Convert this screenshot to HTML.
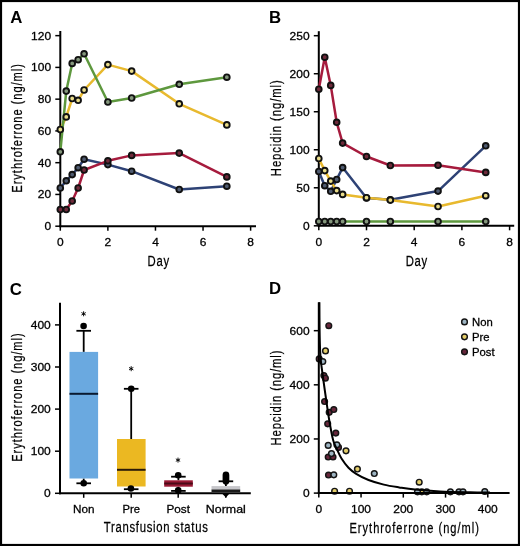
<!DOCTYPE html>
<html><head><meta charset="utf-8"><style>
html,body{margin:0;padding:0;background:#fff;}
svg{display:block;will-change:transform;}
</style></head><body>
<svg width="520" height="546" viewBox="0 0 520 546" font-family='"Liberation Sans", sans-serif' fill="#000">
<rect x="0" y="0" width="520" height="546" fill="#fff"/>
<text x="10.2" y="22.9" font-size="16.8" text-anchor="start" font-weight="bold" >A</text>
<line x1="60.3" y1="31" x2="60.3" y2="227.2" stroke="#000" stroke-width="2.0"/>
<line x1="59.3" y1="226.2" x2="256" y2="226.2" stroke="#000" stroke-width="2.0"/>
<line x1="55.3" y1="226.2" x2="60.3" y2="226.2" stroke="#000" stroke-width="1.5"/>
<text x="51.099999999999994" y="230.2" font-size="11.5" text-anchor="end" font-weight="normal" textLength="6.67" lengthAdjust="spacingAndGlyphs" stroke="#000" stroke-width="0.28" >0</text>
<line x1="55.3" y1="194.44" x2="60.3" y2="194.44" stroke="#000" stroke-width="1.5"/>
<text x="51.099999999999994" y="198.44" font-size="11.5" text-anchor="end" font-weight="normal" textLength="13.34" lengthAdjust="spacingAndGlyphs" stroke="#000" stroke-width="0.28" >20</text>
<line x1="55.3" y1="162.67999999999998" x2="60.3" y2="162.67999999999998" stroke="#000" stroke-width="1.5"/>
<text x="51.099999999999994" y="166.67999999999998" font-size="11.5" text-anchor="end" font-weight="normal" textLength="13.34" lengthAdjust="spacingAndGlyphs" stroke="#000" stroke-width="0.28" >40</text>
<line x1="55.3" y1="130.92" x2="60.3" y2="130.92" stroke="#000" stroke-width="1.5"/>
<text x="51.099999999999994" y="134.92" font-size="11.5" text-anchor="end" font-weight="normal" textLength="13.34" lengthAdjust="spacingAndGlyphs" stroke="#000" stroke-width="0.28" >60</text>
<line x1="55.3" y1="99.15999999999998" x2="60.3" y2="99.15999999999998" stroke="#000" stroke-width="1.5"/>
<text x="51.099999999999994" y="103.15999999999998" font-size="11.5" text-anchor="end" font-weight="normal" textLength="13.34" lengthAdjust="spacingAndGlyphs" stroke="#000" stroke-width="0.28" >80</text>
<line x1="55.3" y1="67.39999999999998" x2="60.3" y2="67.39999999999998" stroke="#000" stroke-width="1.5"/>
<text x="51.099999999999994" y="71.39999999999998" font-size="11.5" text-anchor="end" font-weight="normal" textLength="20.01" lengthAdjust="spacingAndGlyphs" stroke="#000" stroke-width="0.28" >100</text>
<line x1="55.3" y1="35.639999999999986" x2="60.3" y2="35.639999999999986" stroke="#000" stroke-width="1.5"/>
<text x="51.099999999999994" y="39.639999999999986" font-size="11.5" text-anchor="end" font-weight="normal" textLength="20.01" lengthAdjust="spacingAndGlyphs" stroke="#000" stroke-width="0.28" >120</text>
<line x1="60.3" y1="226.2" x2="60.3" y2="230.7" stroke="#000" stroke-width="1.5"/>
<text x="60.3" y="245.7" font-size="11.5" text-anchor="middle" font-weight="normal" textLength="6.67" lengthAdjust="spacingAndGlyphs" stroke="#000" stroke-width="0.28" >0</text>
<line x1="107.88" y1="226.2" x2="107.88" y2="230.7" stroke="#000" stroke-width="1.5"/>
<text x="107.88" y="245.7" font-size="11.5" text-anchor="middle" font-weight="normal" textLength="6.67" lengthAdjust="spacingAndGlyphs" stroke="#000" stroke-width="0.28" >2</text>
<line x1="155.45999999999998" y1="226.2" x2="155.45999999999998" y2="230.7" stroke="#000" stroke-width="1.5"/>
<text x="155.45999999999998" y="245.7" font-size="11.5" text-anchor="middle" font-weight="normal" textLength="6.67" lengthAdjust="spacingAndGlyphs" stroke="#000" stroke-width="0.28" >4</text>
<line x1="203.04000000000002" y1="226.2" x2="203.04000000000002" y2="230.7" stroke="#000" stroke-width="1.5"/>
<text x="203.04000000000002" y="245.7" font-size="11.5" text-anchor="middle" font-weight="normal" textLength="6.67" lengthAdjust="spacingAndGlyphs" stroke="#000" stroke-width="0.28" >6</text>
<line x1="250.62" y1="226.2" x2="250.62" y2="230.7" stroke="#000" stroke-width="1.5"/>
<text x="250.62" y="245.7" font-size="11.5" text-anchor="middle" font-weight="normal" textLength="6.67" lengthAdjust="spacingAndGlyphs" stroke="#000" stroke-width="0.28" >8</text>
<g transform="translate(158.3,265.8) scale(0.78,1)"><text x="0" y="0" font-size="14.5" text-anchor="middle" textLength="27.56" lengthAdjust="spacing" stroke="#000" stroke-width="0.25">Day</text></g>
<g transform="translate(22.3,128.4) rotate(-90) scale(0.78,1)"><text x="0" y="0" font-size="14.2" text-anchor="middle" textLength="164.74" lengthAdjust="spacing" stroke="#000" stroke-width="0.25">Erythroferrone (ng/ml)</text></g>
<path d="M60.30,188.00 L66.25,180.80 L72.19,174.60 L78.14,167.70 L84.09,159.20 L107.88,164.60 L131.67,171.20 L179.25,189.50 L226.83,186.20" fill="none" stroke="#2e4275" stroke-width="2.5" stroke-linejoin="round"/>
<path d="M60.30,129.50 L66.25,116.90 L72.19,98.50 L78.14,100.30 L84.09,90.00 L107.88,64.60 L131.67,71.10 L179.25,103.80 L226.83,124.90" fill="none" stroke="#e8b92e" stroke-width="2.5" stroke-linejoin="round"/>
<path d="M60.30,209.50 L66.25,209.50 L72.19,201.00 L78.14,188.00 L84.09,170.00 L107.88,160.80 L131.67,155.40 L179.25,153.10 L226.83,176.90" fill="none" stroke="#a61b3d" stroke-width="2.5" stroke-linejoin="round"/>
<path d="M60.30,151.80 L66.25,91.10 L72.19,63.40 L78.14,59.70 L84.09,53.80 L107.88,102.00 L131.67,98.00 L179.25,84.30 L226.83,77.20" fill="none" stroke="#5e983e" stroke-width="2.5" stroke-linejoin="round"/>
<circle cx="60.30" cy="188.00" r="2.85" fill="#4f5b70" stroke="#111" stroke-width="1.9"/>
<circle cx="66.25" cy="180.80" r="2.85" fill="#4f5b70" stroke="#111" stroke-width="1.9"/>
<circle cx="72.19" cy="174.60" r="2.85" fill="#4f5b70" stroke="#111" stroke-width="1.9"/>
<circle cx="78.14" cy="167.70" r="2.85" fill="#4f5b70" stroke="#111" stroke-width="1.9"/>
<circle cx="84.09" cy="159.20" r="2.85" fill="#4f5b70" stroke="#111" stroke-width="1.9"/>
<circle cx="107.88" cy="164.60" r="2.85" fill="#4f5b70" stroke="#111" stroke-width="1.9"/>
<circle cx="131.67" cy="171.20" r="2.85" fill="#4f5b70" stroke="#111" stroke-width="1.9"/>
<circle cx="179.25" cy="189.50" r="2.85" fill="#4f5b70" stroke="#111" stroke-width="1.9"/>
<circle cx="226.83" cy="186.20" r="2.85" fill="#4f5b70" stroke="#111" stroke-width="1.9"/>
<circle cx="60.30" cy="129.50" r="2.85" fill="#e9dc8a" stroke="#111" stroke-width="1.9"/>
<circle cx="66.25" cy="116.90" r="2.85" fill="#e9dc8a" stroke="#111" stroke-width="1.9"/>
<circle cx="72.19" cy="98.50" r="2.85" fill="#e9dc8a" stroke="#111" stroke-width="1.9"/>
<circle cx="78.14" cy="100.30" r="2.85" fill="#e9dc8a" stroke="#111" stroke-width="1.9"/>
<circle cx="84.09" cy="90.00" r="2.85" fill="#e9dc8a" stroke="#111" stroke-width="1.9"/>
<circle cx="107.88" cy="64.60" r="2.85" fill="#e9dc8a" stroke="#111" stroke-width="1.9"/>
<circle cx="131.67" cy="71.10" r="2.85" fill="#e9dc8a" stroke="#111" stroke-width="1.9"/>
<circle cx="179.25" cy="103.80" r="2.85" fill="#e9dc8a" stroke="#111" stroke-width="1.9"/>
<circle cx="226.83" cy="124.90" r="2.85" fill="#e9dc8a" stroke="#111" stroke-width="1.9"/>
<circle cx="60.30" cy="209.50" r="2.85" fill="#6e2a3a" stroke="#111" stroke-width="1.9"/>
<circle cx="66.25" cy="209.50" r="2.85" fill="#6e2a3a" stroke="#111" stroke-width="1.9"/>
<circle cx="72.19" cy="201.00" r="2.85" fill="#6e2a3a" stroke="#111" stroke-width="1.9"/>
<circle cx="78.14" cy="188.00" r="2.85" fill="#6e2a3a" stroke="#111" stroke-width="1.9"/>
<circle cx="84.09" cy="170.00" r="2.85" fill="#6e2a3a" stroke="#111" stroke-width="1.9"/>
<circle cx="107.88" cy="160.80" r="2.85" fill="#6e2a3a" stroke="#111" stroke-width="1.9"/>
<circle cx="131.67" cy="155.40" r="2.85" fill="#6e2a3a" stroke="#111" stroke-width="1.9"/>
<circle cx="179.25" cy="153.10" r="2.85" fill="#6e2a3a" stroke="#111" stroke-width="1.9"/>
<circle cx="226.83" cy="176.90" r="2.85" fill="#6e2a3a" stroke="#111" stroke-width="1.9"/>
<circle cx="60.30" cy="151.80" r="2.85" fill="#84977c" stroke="#111" stroke-width="1.9"/>
<circle cx="66.25" cy="91.10" r="2.85" fill="#84977c" stroke="#111" stroke-width="1.9"/>
<circle cx="72.19" cy="63.40" r="2.85" fill="#84977c" stroke="#111" stroke-width="1.9"/>
<circle cx="78.14" cy="59.70" r="2.85" fill="#84977c" stroke="#111" stroke-width="1.9"/>
<circle cx="84.09" cy="53.80" r="2.85" fill="#84977c" stroke="#111" stroke-width="1.9"/>
<circle cx="107.88" cy="102.00" r="2.85" fill="#84977c" stroke="#111" stroke-width="1.9"/>
<circle cx="131.67" cy="98.00" r="2.85" fill="#84977c" stroke="#111" stroke-width="1.9"/>
<circle cx="179.25" cy="84.30" r="2.85" fill="#84977c" stroke="#111" stroke-width="1.9"/>
<circle cx="226.83" cy="77.20" r="2.85" fill="#84977c" stroke="#111" stroke-width="1.9"/>
<text x="269.0" y="23.0" font-size="16.8" text-anchor="start" font-weight="bold" >B</text>
<line x1="318.8" y1="31.2" x2="318.8" y2="226.8" stroke="#000" stroke-width="2.0"/>
<line x1="317.8" y1="225.8" x2="514.2" y2="225.8" stroke="#000" stroke-width="2.0"/>
<line x1="313.8" y1="225.8" x2="318.8" y2="225.8" stroke="#000" stroke-width="1.5"/>
<text x="309.6" y="229.8" font-size="11.5" text-anchor="end" font-weight="normal" textLength="6.67" lengthAdjust="spacingAndGlyphs" stroke="#000" stroke-width="0.28" >0</text>
<line x1="313.8" y1="187.78000000000003" x2="318.8" y2="187.78000000000003" stroke="#000" stroke-width="1.5"/>
<text x="309.6" y="191.78000000000003" font-size="11.5" text-anchor="end" font-weight="normal" textLength="13.34" lengthAdjust="spacingAndGlyphs" stroke="#000" stroke-width="0.28" >50</text>
<line x1="313.8" y1="149.76000000000002" x2="318.8" y2="149.76000000000002" stroke="#000" stroke-width="1.5"/>
<text x="309.6" y="153.76000000000002" font-size="11.5" text-anchor="end" font-weight="normal" textLength="20.01" lengthAdjust="spacingAndGlyphs" stroke="#000" stroke-width="0.28" >100</text>
<line x1="313.8" y1="111.74000000000002" x2="318.8" y2="111.74000000000002" stroke="#000" stroke-width="1.5"/>
<text x="309.6" y="115.74000000000002" font-size="11.5" text-anchor="end" font-weight="normal" textLength="20.01" lengthAdjust="spacingAndGlyphs" stroke="#000" stroke-width="0.28" >150</text>
<line x1="313.8" y1="73.72000000000003" x2="318.8" y2="73.72000000000003" stroke="#000" stroke-width="1.5"/>
<text x="309.6" y="77.72000000000003" font-size="11.5" text-anchor="end" font-weight="normal" textLength="20.01" lengthAdjust="spacingAndGlyphs" stroke="#000" stroke-width="0.28" >200</text>
<line x1="313.8" y1="35.70000000000002" x2="318.8" y2="35.70000000000002" stroke="#000" stroke-width="1.5"/>
<text x="309.6" y="39.70000000000002" font-size="11.5" text-anchor="end" font-weight="normal" textLength="20.01" lengthAdjust="spacingAndGlyphs" stroke="#000" stroke-width="0.28" >250</text>
<line x1="318.8" y1="225.8" x2="318.8" y2="230.3" stroke="#000" stroke-width="1.5"/>
<text x="318.8" y="245.7" font-size="11.5" text-anchor="middle" font-weight="normal" textLength="6.67" lengthAdjust="spacingAndGlyphs" stroke="#000" stroke-width="0.28" >0</text>
<line x1="366.5" y1="225.8" x2="366.5" y2="230.3" stroke="#000" stroke-width="1.5"/>
<text x="366.5" y="245.7" font-size="11.5" text-anchor="middle" font-weight="normal" textLength="6.67" lengthAdjust="spacingAndGlyphs" stroke="#000" stroke-width="0.28" >2</text>
<line x1="414.20000000000005" y1="225.8" x2="414.20000000000005" y2="230.3" stroke="#000" stroke-width="1.5"/>
<text x="414.20000000000005" y="245.7" font-size="11.5" text-anchor="middle" font-weight="normal" textLength="6.67" lengthAdjust="spacingAndGlyphs" stroke="#000" stroke-width="0.28" >4</text>
<line x1="461.90000000000003" y1="225.8" x2="461.90000000000003" y2="230.3" stroke="#000" stroke-width="1.5"/>
<text x="461.90000000000003" y="245.7" font-size="11.5" text-anchor="middle" font-weight="normal" textLength="6.67" lengthAdjust="spacingAndGlyphs" stroke="#000" stroke-width="0.28" >6</text>
<line x1="509.6" y1="225.8" x2="509.6" y2="230.3" stroke="#000" stroke-width="1.5"/>
<text x="509.6" y="245.7" font-size="11.5" text-anchor="middle" font-weight="normal" textLength="6.67" lengthAdjust="spacingAndGlyphs" stroke="#000" stroke-width="0.28" >8</text>
<g transform="translate(416.5,265.8) scale(0.78,1)"><text x="0" y="0" font-size="14.5" text-anchor="middle" textLength="27.56" lengthAdjust="spacing" stroke="#000" stroke-width="0.25">Day</text></g>
<g transform="translate(281,128.2) rotate(-90) scale(0.78,1)"><text x="0" y="0" font-size="14.5" text-anchor="middle" textLength="123.08" lengthAdjust="spacing" stroke="#000" stroke-width="0.25">Hepcidin (ng/ml)</text></g>
<path d="M318.80,171.50 L324.76,185.70 L330.73,191.30 L336.69,179.50 L342.65,167.60 L366.50,198.00 L390.35,199.80 L438.05,191.10 L485.75,145.80" fill="none" stroke="#2e4275" stroke-width="2.5" stroke-linejoin="round"/>
<path d="M318.80,158.50 L324.76,170.60 L330.73,181.10 L336.69,190.60 L342.65,194.40 L366.50,197.70 L390.35,200.10 L438.05,206.50 L485.75,195.70" fill="none" stroke="#e8b92e" stroke-width="2.5" stroke-linejoin="round"/>
<path d="M318.80,89.20 L324.76,57.20 L330.73,85.40 L336.69,122.30 L342.65,143.10 L366.50,156.50 L390.35,165.50 L438.05,165.20 L485.75,172.40" fill="none" stroke="#a61b3d" stroke-width="2.5" stroke-linejoin="round"/>
<path d="M318.80,221.50 L324.76,221.50 L330.73,221.50 L336.69,221.50 L342.65,221.50 L366.50,221.50 L390.35,221.50 L438.05,221.50 L485.75,221.50" fill="none" stroke="#5e983e" stroke-width="2.5" stroke-linejoin="round"/>
<circle cx="318.80" cy="171.50" r="2.85" fill="#4f5b70" stroke="#111" stroke-width="1.9"/>
<circle cx="324.76" cy="185.70" r="2.85" fill="#4f5b70" stroke="#111" stroke-width="1.9"/>
<circle cx="330.73" cy="191.30" r="2.85" fill="#4f5b70" stroke="#111" stroke-width="1.9"/>
<circle cx="336.69" cy="179.50" r="2.85" fill="#4f5b70" stroke="#111" stroke-width="1.9"/>
<circle cx="342.65" cy="167.60" r="2.85" fill="#4f5b70" stroke="#111" stroke-width="1.9"/>
<circle cx="366.50" cy="198.00" r="2.85" fill="#4f5b70" stroke="#111" stroke-width="1.9"/>
<circle cx="390.35" cy="199.80" r="2.85" fill="#4f5b70" stroke="#111" stroke-width="1.9"/>
<circle cx="438.05" cy="191.10" r="2.85" fill="#4f5b70" stroke="#111" stroke-width="1.9"/>
<circle cx="485.75" cy="145.80" r="2.85" fill="#4f5b70" stroke="#111" stroke-width="1.9"/>
<circle cx="318.80" cy="158.50" r="2.85" fill="#e9dc8a" stroke="#111" stroke-width="1.9"/>
<circle cx="324.76" cy="170.60" r="2.85" fill="#e9dc8a" stroke="#111" stroke-width="1.9"/>
<circle cx="330.73" cy="181.10" r="2.85" fill="#e9dc8a" stroke="#111" stroke-width="1.9"/>
<circle cx="336.69" cy="190.60" r="2.85" fill="#e9dc8a" stroke="#111" stroke-width="1.9"/>
<circle cx="342.65" cy="194.40" r="2.85" fill="#e9dc8a" stroke="#111" stroke-width="1.9"/>
<circle cx="366.50" cy="197.70" r="2.85" fill="#e9dc8a" stroke="#111" stroke-width="1.9"/>
<circle cx="390.35" cy="200.10" r="2.85" fill="#e9dc8a" stroke="#111" stroke-width="1.9"/>
<circle cx="438.05" cy="206.50" r="2.85" fill="#e9dc8a" stroke="#111" stroke-width="1.9"/>
<circle cx="485.75" cy="195.70" r="2.85" fill="#e9dc8a" stroke="#111" stroke-width="1.9"/>
<circle cx="318.80" cy="89.20" r="2.85" fill="#6e2a3a" stroke="#111" stroke-width="1.9"/>
<circle cx="324.76" cy="57.20" r="2.85" fill="#6e2a3a" stroke="#111" stroke-width="1.9"/>
<circle cx="330.73" cy="85.40" r="2.85" fill="#6e2a3a" stroke="#111" stroke-width="1.9"/>
<circle cx="336.69" cy="122.30" r="2.85" fill="#6e2a3a" stroke="#111" stroke-width="1.9"/>
<circle cx="342.65" cy="143.10" r="2.85" fill="#6e2a3a" stroke="#111" stroke-width="1.9"/>
<circle cx="366.50" cy="156.50" r="2.85" fill="#6e2a3a" stroke="#111" stroke-width="1.9"/>
<circle cx="390.35" cy="165.50" r="2.85" fill="#6e2a3a" stroke="#111" stroke-width="1.9"/>
<circle cx="438.05" cy="165.20" r="2.85" fill="#6e2a3a" stroke="#111" stroke-width="1.9"/>
<circle cx="485.75" cy="172.40" r="2.85" fill="#6e2a3a" stroke="#111" stroke-width="1.9"/>
<circle cx="318.80" cy="221.50" r="2.85" fill="#84977c" stroke="#111" stroke-width="1.9"/>
<circle cx="324.76" cy="221.50" r="2.85" fill="#84977c" stroke="#111" stroke-width="1.9"/>
<circle cx="330.73" cy="221.50" r="2.85" fill="#84977c" stroke="#111" stroke-width="1.9"/>
<circle cx="336.69" cy="221.50" r="2.85" fill="#84977c" stroke="#111" stroke-width="1.9"/>
<circle cx="342.65" cy="221.50" r="2.85" fill="#84977c" stroke="#111" stroke-width="1.9"/>
<circle cx="366.50" cy="221.50" r="2.85" fill="#84977c" stroke="#111" stroke-width="1.9"/>
<circle cx="390.35" cy="221.50" r="2.85" fill="#84977c" stroke="#111" stroke-width="1.9"/>
<circle cx="438.05" cy="221.50" r="2.85" fill="#84977c" stroke="#111" stroke-width="1.9"/>
<circle cx="485.75" cy="221.50" r="2.85" fill="#84977c" stroke="#111" stroke-width="1.9"/>
<text x="9.8" y="294.8" font-size="16.8" text-anchor="start" font-weight="bold" >C</text>
<line x1="60.0" y1="302.8" x2="60.0" y2="494.3" stroke="#000" stroke-width="2.0"/>
<line x1="59.0" y1="493.3" x2="250.8" y2="493.3" stroke="#000" stroke-width="2.0"/>
<line x1="55.0" y1="493.3" x2="60.0" y2="493.3" stroke="#000" stroke-width="1.5"/>
<text x="50.8" y="497.3" font-size="11.5" text-anchor="end" font-weight="normal" textLength="6.67" lengthAdjust="spacingAndGlyphs" stroke="#000" stroke-width="0.28" >0</text>
<line x1="55.0" y1="451.2" x2="60.0" y2="451.2" stroke="#000" stroke-width="1.5"/>
<text x="50.8" y="455.2" font-size="11.5" text-anchor="end" font-weight="normal" textLength="20.01" lengthAdjust="spacingAndGlyphs" stroke="#000" stroke-width="0.28" >100</text>
<line x1="55.0" y1="409.1" x2="60.0" y2="409.1" stroke="#000" stroke-width="1.5"/>
<text x="50.8" y="413.1" font-size="11.5" text-anchor="end" font-weight="normal" textLength="20.01" lengthAdjust="spacingAndGlyphs" stroke="#000" stroke-width="0.28" >200</text>
<line x1="55.0" y1="367.0" x2="60.0" y2="367.0" stroke="#000" stroke-width="1.5"/>
<text x="50.8" y="371.0" font-size="11.5" text-anchor="end" font-weight="normal" textLength="20.01" lengthAdjust="spacingAndGlyphs" stroke="#000" stroke-width="0.28" >300</text>
<line x1="55.0" y1="324.9" x2="60.0" y2="324.9" stroke="#000" stroke-width="1.5"/>
<text x="50.8" y="328.9" font-size="11.5" text-anchor="end" font-weight="normal" textLength="20.01" lengthAdjust="spacingAndGlyphs" stroke="#000" stroke-width="0.28" >400</text>
<line x1="83.7" y1="493.3" x2="83.7" y2="497.8" stroke="#000" stroke-width="1.5"/>
<line x1="131.2" y1="493.3" x2="131.2" y2="497.8" stroke="#000" stroke-width="1.5"/>
<line x1="178.2" y1="493.3" x2="178.2" y2="497.8" stroke="#000" stroke-width="1.5"/>
<line x1="225.8" y1="493.3" x2="225.8" y2="497.8" stroke="#000" stroke-width="1.5"/>
<text x="83.7" y="513.0" font-size="11.5" text-anchor="middle" font-weight="normal" textLength="21.5" lengthAdjust="spacingAndGlyphs" stroke="#000" stroke-width="0.28" >Non</text>
<text x="131.2" y="513.0" font-size="11.5" text-anchor="middle" font-weight="normal" textLength="17.5" lengthAdjust="spacingAndGlyphs" stroke="#000" stroke-width="0.28" >Pre</text>
<text x="178.2" y="513.0" font-size="11.5" text-anchor="middle" font-weight="normal" textLength="23.5" lengthAdjust="spacingAndGlyphs" stroke="#000" stroke-width="0.28" >Post</text>
<text x="225.8" y="513.0" font-size="11.5" text-anchor="middle" font-weight="normal" textLength="40" lengthAdjust="spacingAndGlyphs" stroke="#000" stroke-width="0.28" >Normal</text>
<g transform="translate(155.8,532.4) scale(0.78,1)"><text x="0" y="0" font-size="14.5" text-anchor="middle" textLength="133.33" lengthAdjust="spacing" stroke="#000" stroke-width="0.25">Transfusion status</text></g>
<g transform="translate(22.3,397.6) rotate(-90) scale(0.78,1)"><text x="0" y="0" font-size="14.2" text-anchor="middle" textLength="164.74" lengthAdjust="spacing" stroke="#000" stroke-width="0.25">Erythroferrone (ng/ml)</text></g>
<line x1="83.7" y1="330.8" x2="83.7" y2="351.9" stroke="#000" stroke-width="1.8"/><line x1="76.4" y1="330.8" x2="91.0" y2="330.8" stroke="#000" stroke-width="1.8"/>
<line x1="83.7" y1="478.5" x2="83.7" y2="483.3" stroke="#000" stroke-width="1.8"/><line x1="76.4" y1="483.3" x2="91.0" y2="483.3" stroke="#000" stroke-width="1.8"/>
<rect x="69.5" y="351.9" width="28.6" height="126.60000000000002" fill="#6aa9e0"/><line x1="69.5" y1="393.8" x2="98.1" y2="393.8" stroke="#0a1a30" stroke-width="2"/>
<circle cx="83.6" cy="326" r="3.3" fill="#000"/>
<circle cx="83.7" cy="483.3" r="3.3" fill="#000"/>
<path d="M83.60,311.30 L83.60,316.30 M81.43,312.55 L85.77,315.05 M81.43,315.05 L85.77,312.55" stroke="#000" stroke-width="0.95" fill="none"/>
<line x1="131.2" y1="388.8" x2="131.2" y2="439" stroke="#000" stroke-width="1.8"/><line x1="123.89999999999999" y1="388.8" x2="138.5" y2="388.8" stroke="#000" stroke-width="1.8"/>
<line x1="131.2" y1="486.5" x2="131.2" y2="489.2" stroke="#000" stroke-width="1.8"/><line x1="123.89999999999999" y1="489.2" x2="138.5" y2="489.2" stroke="#000" stroke-width="1.8"/>
<rect x="117.00000000000001" y="439" width="28.6" height="47.5" fill="#ebb822"/><line x1="117.00000000000001" y1="469.8" x2="145.60000000000002" y2="469.8" stroke="#2a1a08" stroke-width="2"/>
<circle cx="131.2" cy="388.7" r="3.3" fill="#000"/>
<circle cx="130.9" cy="488.5" r="3.3" fill="#000"/>
<path d="M131.20,366.20 L131.20,371.20 M129.03,367.45 L133.37,369.95 M129.03,369.95 L133.37,367.45" stroke="#000" stroke-width="0.95" fill="none"/>
<line x1="178.4" y1="476.7" x2="178.4" y2="480.3" stroke="#000" stroke-width="1.8"/><line x1="171.1" y1="476.7" x2="185.70000000000002" y2="476.7" stroke="#000" stroke-width="1.8"/>
<line x1="178.4" y1="486.7" x2="178.4" y2="490.9" stroke="#000" stroke-width="1.8"/><line x1="171.1" y1="490.9" x2="185.70000000000002" y2="490.9" stroke="#000" stroke-width="1.8"/>
<rect x="164.2" y="480.3" width="28.6" height="6.399999999999977" fill="#9a1a35"/><line x1="164.2" y1="483.5" x2="192.8" y2="483.5" stroke="#4a0a18" stroke-width="2"/>
<circle cx="178.2" cy="475.2" r="3.3" fill="#000"/>
<circle cx="178.2" cy="490.4" r="3.3" fill="#000"/>
<path d="M178.00,457.60 L178.00,462.60 M175.83,458.85 L180.17,461.35 M175.83,461.35 L180.17,458.85" stroke="#000" stroke-width="0.95" fill="none"/>
<line x1="225.9" y1="481.3" x2="225.9" y2="486.1" stroke="#000" stroke-width="1.8"/><line x1="218.6" y1="481.3" x2="233.20000000000002" y2="481.3" stroke="#000" stroke-width="1.8"/>
<rect x="211.5" y="486.1" width="28.7" height="3.6" fill="#c6c6ca"/><rect x="211.5" y="489.5" width="28.7" height="2.6" fill="#1a1a1a"/>
<rect x="222.6" y="471.6" width="6.7" height="13" rx="3.35" fill="#000"/>
<path d="M221.5,493 L230,493 L225.9,497.5 Z" fill="#000"/>
<text x="269.0" y="294.4" font-size="16.8" text-anchor="start" font-weight="bold" >D</text>
<g transform="translate(414.2,532.5) scale(0.78,1)"><text x="0" y="0" font-size="14.2" text-anchor="middle" textLength="166.03" lengthAdjust="spacing" stroke="#000" stroke-width="0.25">Erythroferrone (ng/ml)</text></g>
<g transform="translate(280.9,398) rotate(-90) scale(0.78,1)"><text x="0" y="0" font-size="14.5" text-anchor="middle" textLength="121.79" lengthAdjust="spacing" stroke="#000" stroke-width="0.25">Hepcidin (ng/ml)</text></g>
<circle cx="328.8" cy="325.7" r="2.85" fill="#66263a" stroke="#151515" stroke-width="1.45"/>
<circle cx="319.2" cy="358.9" r="2.85" fill="#66263a" stroke="#151515" stroke-width="1.45"/>
<circle cx="323.9" cy="375.6" r="2.85" fill="#66263a" stroke="#151515" stroke-width="1.45"/>
<circle cx="325.4" cy="378.2" r="2.85" fill="#66263a" stroke="#151515" stroke-width="1.45"/>
<circle cx="324.6" cy="401.5" r="2.85" fill="#66263a" stroke="#151515" stroke-width="1.45"/>
<circle cx="329.2" cy="412.3" r="2.85" fill="#66263a" stroke="#151515" stroke-width="1.45"/>
<circle cx="333.8" cy="409.5" r="2.85" fill="#66263a" stroke="#151515" stroke-width="1.45"/>
<circle cx="327.7" cy="423.8" r="2.85" fill="#66263a" stroke="#151515" stroke-width="1.45"/>
<circle cx="335.8" cy="433.1" r="2.85" fill="#66263a" stroke="#151515" stroke-width="1.45"/>
<circle cx="338.5" cy="447.4" r="2.85" fill="#66263a" stroke="#151515" stroke-width="1.45"/>
<circle cx="328.2" cy="457" r="2.85" fill="#66263a" stroke="#151515" stroke-width="1.45"/>
<circle cx="333" cy="457" r="2.85" fill="#66263a" stroke="#151515" stroke-width="1.45"/>
<circle cx="328.5" cy="475" r="2.85" fill="#66263a" stroke="#151515" stroke-width="1.45"/>
<circle cx="325.5" cy="350.9" r="2.85" fill="#e3cd6a" stroke="#151515" stroke-width="1.45"/>
<circle cx="346" cy="450.8" r="2.85" fill="#e3cd6a" stroke="#151515" stroke-width="1.45"/>
<circle cx="357.4" cy="469" r="2.85" fill="#e3cd6a" stroke="#151515" stroke-width="1.45"/>
<circle cx="334.6" cy="491.2" r="2.85" fill="#e3cd6a" stroke="#151515" stroke-width="1.45"/>
<circle cx="349.5" cy="491.2" r="2.85" fill="#e3cd6a" stroke="#151515" stroke-width="1.45"/>
<circle cx="419.2" cy="482.2" r="2.85" fill="#e3cd6a" stroke="#151515" stroke-width="1.45"/>
<circle cx="421.8" cy="491.8" r="2.85" fill="#e3cd6a" stroke="#151515" stroke-width="1.45"/>
<circle cx="322.8" cy="361.5" r="2.85" fill="#9db4c2" stroke="#151515" stroke-width="1.45"/>
<circle cx="328.2" cy="445.4" r="2.85" fill="#9db4c2" stroke="#151515" stroke-width="1.45"/>
<circle cx="336.9" cy="444.8" r="2.85" fill="#9db4c2" stroke="#151515" stroke-width="1.45"/>
<circle cx="331.5" cy="453.6" r="2.85" fill="#9db4c2" stroke="#151515" stroke-width="1.45"/>
<circle cx="333.8" cy="474.8" r="2.85" fill="#9db4c2" stroke="#151515" stroke-width="1.45"/>
<circle cx="374.3" cy="473.5" r="2.85" fill="#9db4c2" stroke="#151515" stroke-width="1.45"/>
<circle cx="417.5" cy="491.8" r="2.85" fill="#9db4c2" stroke="#151515" stroke-width="1.45"/>
<circle cx="426.7" cy="491.8" r="2.85" fill="#9db4c2" stroke="#151515" stroke-width="1.45"/>
<circle cx="450.4" cy="491.8" r="2.85" fill="#9db4c2" stroke="#151515" stroke-width="1.45"/>
<circle cx="459" cy="491.8" r="2.85" fill="#9db4c2" stroke="#151515" stroke-width="1.45"/>
<circle cx="463" cy="491.8" r="2.85" fill="#9db4c2" stroke="#151515" stroke-width="1.45"/>
<circle cx="484.8" cy="491.5" r="2.85" fill="#9db4c2" stroke="#151515" stroke-width="1.45"/>
<line x1="318.8" y1="302.3" x2="318.8" y2="494.1" stroke="#000" stroke-width="2.0"/>
<line x1="317.8" y1="493.1" x2="509.6" y2="493.1" stroke="#000" stroke-width="2.0"/>
<line x1="313.8" y1="493.1" x2="318.8" y2="493.1" stroke="#000" stroke-width="1.5"/>
<text x="309.6" y="497.1" font-size="11.5" text-anchor="end" font-weight="normal" textLength="6.67" lengthAdjust="spacingAndGlyphs" stroke="#000" stroke-width="0.28" >0</text>
<line x1="313.8" y1="438.96000000000004" x2="318.8" y2="438.96000000000004" stroke="#000" stroke-width="1.5"/>
<text x="309.6" y="442.96000000000004" font-size="11.5" text-anchor="end" font-weight="normal" textLength="20.01" lengthAdjust="spacingAndGlyphs" stroke="#000" stroke-width="0.28" >200</text>
<line x1="313.8" y1="384.82000000000005" x2="318.8" y2="384.82000000000005" stroke="#000" stroke-width="1.5"/>
<text x="309.6" y="388.82000000000005" font-size="11.5" text-anchor="end" font-weight="normal" textLength="20.01" lengthAdjust="spacingAndGlyphs" stroke="#000" stroke-width="0.28" >400</text>
<line x1="313.8" y1="330.68000000000006" x2="318.8" y2="330.68000000000006" stroke="#000" stroke-width="1.5"/>
<text x="309.6" y="334.68000000000006" font-size="11.5" text-anchor="end" font-weight="normal" textLength="20.01" lengthAdjust="spacingAndGlyphs" stroke="#000" stroke-width="0.28" >600</text>
<line x1="318.8" y1="493.1" x2="318.8" y2="497.6" stroke="#000" stroke-width="1.5"/>
<text x="318.8" y="512.9" font-size="11.5" text-anchor="middle" font-weight="normal" textLength="6.67" lengthAdjust="spacingAndGlyphs" stroke="#000" stroke-width="0.28" >0</text>
<line x1="361.05" y1="493.1" x2="361.05" y2="497.6" stroke="#000" stroke-width="1.5"/>
<text x="361.05" y="512.9" font-size="11.5" text-anchor="middle" font-weight="normal" textLength="20.01" lengthAdjust="spacingAndGlyphs" stroke="#000" stroke-width="0.28" >100</text>
<line x1="403.3" y1="493.1" x2="403.3" y2="497.6" stroke="#000" stroke-width="1.5"/>
<text x="403.3" y="512.9" font-size="11.5" text-anchor="middle" font-weight="normal" textLength="20.01" lengthAdjust="spacingAndGlyphs" stroke="#000" stroke-width="0.28" >200</text>
<line x1="445.55" y1="493.1" x2="445.55" y2="497.6" stroke="#000" stroke-width="1.5"/>
<text x="445.55" y="512.9" font-size="11.5" text-anchor="middle" font-weight="normal" textLength="20.01" lengthAdjust="spacingAndGlyphs" stroke="#000" stroke-width="0.28" >300</text>
<line x1="487.8" y1="493.1" x2="487.8" y2="497.6" stroke="#000" stroke-width="1.5"/>
<text x="487.8" y="512.9" font-size="11.5" text-anchor="middle" font-weight="normal" textLength="20.01" lengthAdjust="spacingAndGlyphs" stroke="#000" stroke-width="0.28" >400</text>
<path d="M319.4,302.3 C319.43,306.92 319.48,322.05 319.6,330 C319.72,337.95 319.87,344.67 320.1,350 C320.33,355.33 320.63,358.33 321.0,362 C321.37,365.67 321.88,368.83 322.3,372 C322.72,375.17 322.85,376.33 323.5,381 C324.15,385.67 325.25,393.50 326.2,400 C327.15,406.50 328.05,413.33 329.2,420 C330.35,426.67 331.82,435.13 333.1,440 C334.38,444.87 335.50,446.12 336.9,449.2 C338.30,452.28 339.57,455.42 341.5,458.5 C343.43,461.58 346.05,465.15 348.5,467.7 C350.95,470.25 352.87,471.75 356.2,473.8 C359.53,475.85 363.90,478.20 368.5,480 C373.10,481.80 378.68,483.37 383.8,484.6 C388.92,485.83 394.00,486.57 399.2,487.4 C404.40,488.23 408.20,488.93 415,489.6 C421.80,490.27 430.83,490.95 440,491.4 C449.17,491.85 461.67,492.10 470,492.3 C478.33,492.50 486.67,492.55 490,492.6" fill="none" stroke="#000" stroke-width="2"/>
<circle cx="464.5" cy="321.9" r="2.85" fill="#9db4c2" stroke="#151515" stroke-width="1.45"/>
<text x="472.0" y="325.9" font-size="11.3" text-anchor="start" font-weight="normal" stroke="#000" stroke-width="0.28" >Non</text>
<circle cx="464.5" cy="336.84999999999997" r="2.85" fill="#e3cd6a" stroke="#151515" stroke-width="1.45"/>
<text x="472.0" y="340.84999999999997" font-size="11.3" text-anchor="start" font-weight="normal" stroke="#000" stroke-width="0.28" >Pre</text>
<circle cx="464.5" cy="351.79999999999995" r="2.85" fill="#66263a" stroke="#151515" stroke-width="1.45"/>
<text x="472.0" y="355.79999999999995" font-size="11.3" text-anchor="start" font-weight="normal" stroke="#000" stroke-width="0.28" >Post</text>
<rect x="1" y="1" width="518" height="544" fill="none" stroke="#000" stroke-width="2.2"/>
</svg>
</body></html>
